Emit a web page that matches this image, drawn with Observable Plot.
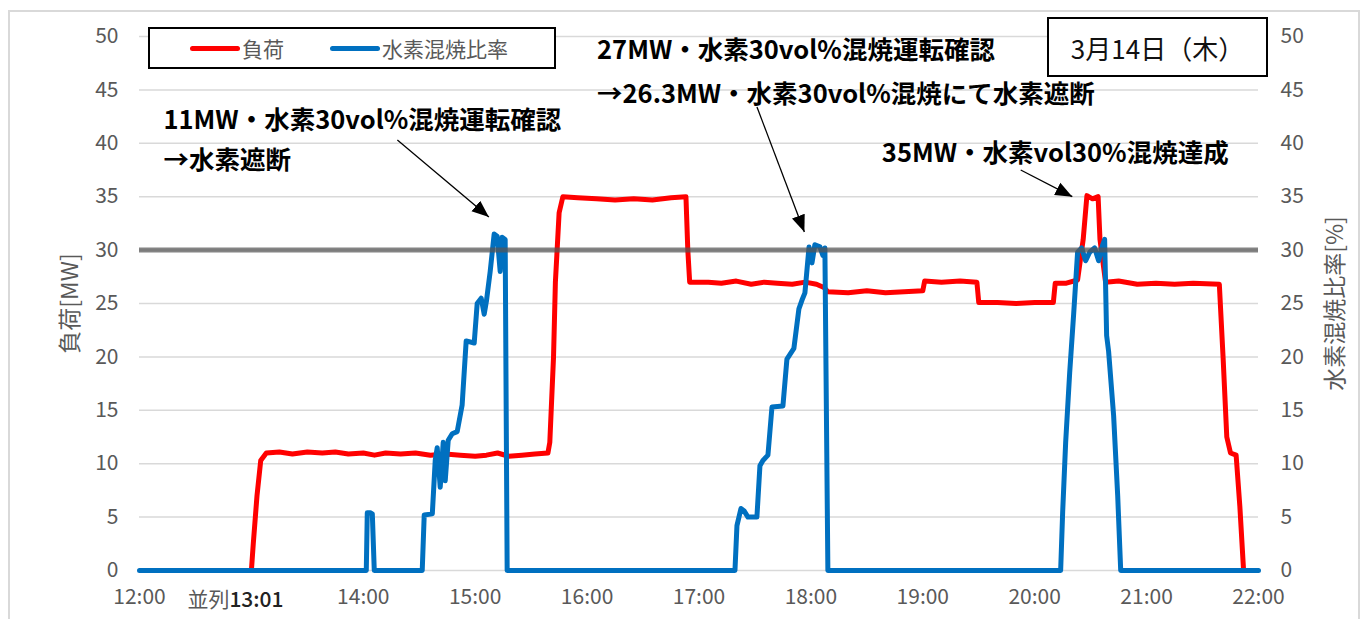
<!DOCTYPE html>
<html>
<head>
<meta charset="utf-8">
<script src="https://cdn.jsdelivr.net/npm/d3@7"></script>
<script src="https://cdn.jsdelivr.net/npm/@observablehq/plot@0.6"></script>
<style>
html, body { margin: 0; padding: 0; background: #fff; overflow: hidden; }
#wrap { position: relative; width: 1366px; height: 619px; font-family: "Noto Sans CJK JP", sans-serif; }
#frame { position: absolute; left: 8px; top: 10px; width: 1352px; height: 640px; border: 2px solid #d9d9d9; box-sizing: border-box; pointer-events: none; }
#legend { position: absolute; left: 148px; top: 27px; width: 408px; height: 42px; border: 2px solid #000; background: #fff; box-sizing: border-box; font-size: 21px; color: #595959; }
.item { display: flex; align-items: center; position: absolute; top: 50%; transform: translateY(-50%); }
.sw { display: inline-block; width: 50px; height: 5px; border-radius: 3px; margin-right: 2px; }
#datebox { position: absolute; left: 1047px; top: 17px; width: 221px; height: 60px; border: 2px solid #000; background: #fff; box-sizing: border-box; display: flex; align-items: center; justify-content: center; font-size: 26px; color: #111; }
#chart { position: absolute; left: 0; top: 0; }
</style>
</head>
<body>
<div id="wrap">
  <div id="chart"></div>
  <div id="frame"></div>
</div>
<script>
// ---- data ----
const loadTime = ["13:00","13:01","13:03","13:05","13:08","13:15","13:22","13:30","13:38","13:45","13:52","14:00","14:06","14:12","14:20","14:28","14:36","14:44","14:52","15:00","15:06","15:12","15:18","15:25","15:32","15:39","15:40","15:42","15:43","15:45","15:47","15:55","16:05","16:15","16:25","16:35","16:45","16:53","16:54","16:55","17:05","17:12","17:20","17:28","17:35","17:42","17:50","17:57","18:03","18:07","18:09","18:20","18:30","18:40","18:50","19:00","19:01","19:10","19:20","19:29","19:30","19:40","19:50","20:00","20:10","20:11","20:17","20:23","20:26","20:28","20:31","20:34","20:35","20:38","20:45","20:55","21:05","21:15","21:25","21:39","21:41","21:43","21:45","21:48","21:50","21:52"];
const loadMW   = [0,2.5,7,10.3,11.0,11.1,10.9,11.1,11.0,11.1,10.9,11.0,10.8,11.0,10.9,11.0,10.8,10.9,10.8,10.7,10.8,11.0,10.7,10.8,10.9,11.0,12,20,27,33.5,35.0,34.9,34.8,34.7,34.8,34.7,34.9,35.0,30,27.0,27.0,26.9,27.1,26.8,27.0,26.9,26.8,27.0,26.8,26.5,26.1,26.0,26.2,26.0,26.1,26.2,27.1,27.0,27.1,27.0,25.1,25.1,25.0,25.1,25.1,26.9,26.9,27.2,31,35.1,34.8,35.0,31,27.0,27.1,26.8,26.9,26.8,26.9,26.8,20,12.5,11,10.8,6,0];

const h2Time = ["12:00:00","14:01:36","14:02:08","14:03:45","14:04:50","14:05:53","14:31:36","14:32:40","14:37:00","14:38:34","14:39:38","14:41:15","14:42:51","14:43:55","14:45:32","14:47:40","14:50:21","14:53:00","14:55:10","14:59:28","15:01:04","15:03:13","15:04:50","15:06:00","15:08:02","15:10:10","15:11:47","15:13:24","15:14:27","15:16:04","15:17:08","17:19:17","17:20:21","17:22:30","17:24:06","17:26:15","17:31:03","17:32:40","17:34:17","17:36:58","17:39:07","17:45:00","17:47:09","17:50:53","17:53:34","17:55:11","17:56:48","17:59:00","18:00:35","18:02:08","18:04:50","18:06:25","18:07:30","18:09:06","20:13:55","20:15:00","20:16:36","20:18:45","20:20:53","20:23:00","20:25:11","20:27:19","20:29:28","20:32:08","20:34:17","20:36:26","20:37:30","20:38:34","20:39:38","20:42:19","20:44:30","20:46:07","22:00:00"];
const h2Pct  = [0,0,5.4,5.4,5.3,0,0,5.2,5.3,10.3,11.5,7.8,12.0,8.4,12.2,12.8,13.0,15.5,21.5,21.3,25.0,25.5,24.0,25.2,28.0,31.5,31.3,28.0,31.2,31.0,0,0,4.2,5.8,5.6,5.0,5.0,9.8,10.3,10.8,15.3,15.4,19.8,20.8,24.5,25.3,26.0,30.3,28.8,30.5,30.3,29.5,30.2,0,0,5.5,12,18.5,24,29.8,30.2,29.0,29.8,30.2,29.0,30.5,31.0,22.0,20.5,14.5,7,0,0];

const yTicks = [0,5,10,15,20,25,30,35,40,45,50];
const xTicks = ["12:00","13:00","14:00","15:00","16:00","17:00","18:00","19:00","20:00","21:00","22:00"];
const targetPct = [30];

const seriesNames = ["負荷", "水素混焼比率"];
const seriesColors = ["#ff0000", "#0070c0"];
const leftTitle = "負荷[MW]";
const rightTitle = "水素混焼比率[%]";
const dateLabel = "3月14日（木）";
const parallelLabel = ["並列", "13:01"];

const annTime = ["12:12:51","12:12:51","16:05:21","16:05:21","18:38:02"];
const annValue = [42.1, 38.4, 48.7, 44.5, 39.0];
const annText = ["11MW・水素30vol%混焼運転確認","→水素遮断","27MW・水素30vol%混焼運転確認","→26.3MW・水素30vol%混焼にて水素遮断","35MW・水素vol30%混焼達成"];

const arrFromTime = ["14:18:16","17:31:05","19:52:30"];
const arrFromVal  = [40.3, 43.4, 37.5];
const arrToTime   = ["15:07:20","17:56:30","20:20:10"];
const arrToVal    = [33.1, 31.7, 35.0];

// ---- build ----
const parse = d3.utcParse("%H:%M:%S");
const T = s => parse(s.length === 5 ? s + ":00" : s);

const load = loadTime.map((t, i) => ({t: T(t), v: loadMW[i]}));
const h2 = h2Time.map((t, i) => ({t: T(t), v: h2Pct[i]}));
const ann = annText.map((s, i) => ({t: T(annTime[i]), v: annValue[i], s}));
const arrows = arrFromTime.map((t, i) => ({t1: T(t), v1: arrFromVal[i], t2: T(arrToTime[i]), v2: arrToVal[i]}));
const xTickDates = xTicks.map(T);
const fmt = d3.utcFormat("%H:%M");

const font = "'Noto Sans CJK JP', sans-serif";
const grey = "#595959";
const tickFs = 21;

const chart = Plot.plot({
  width: 1366,
  height: 619,
  marginLeft: 139,
  marginRight: 108,
  marginTop: 36,
  marginBottom: 49,
  style: {fontFamily: font, fontSize: tickFs + "px", color: grey, background: "transparent"},
  x: {type: "utc", domain: [T("12:00"), T("22:00")]},
  y: {domain: [0, 50]},
  marks: [
    Plot.gridY(yTicks, {stroke: "#d9d9d9", strokeOpacity: 1, strokeWidth: 1.5}),
    Plot.axisY(yTicks, {anchor: "left", tickSize: 0, tickPadding: 21, label: null, fill: grey, fontSize: tickFs}),
    Plot.axisY(yTicks, {anchor: "right", tickSize: 0, tickPadding: 22, label: null, fill: grey, fontSize: tickFs}),
    Plot.axisX(xTickDates, {anchor: "bottom", tickSize: 0, tickPadding: 19, label: null, fill: grey, fontSize: tickFs,
      tickFormat: d => d.getUTCHours() === 13 ? "" : fmt(d)}),
    Plot.text([parallelLabel[0]], {x: () => T("13:00"), y: () => 0, text: d => d, textAnchor: "end", dx: -22, dy: 30, fill: grey, fontSize: tickFs}),
    Plot.text([parallelLabel[1]], {x: () => T("13:00"), y: () => 0, text: d => d, textAnchor: "start", dx: -22, dy: 30, fill: "#222", fontSize: tickFs, fontWeight: 500}),
    Plot.text([leftTitle], {frameAnchor: "left", dx: -69, rotate: -90, textAnchor: "middle", fill: grey, fontSize: 23}),
    Plot.text([rightTitle], {frameAnchor: "right", dx: 77, rotate: -90, textAnchor: "middle", fill: grey, fontSize: 23}),
    Plot.line(load, {x: "t", y: "v", stroke: seriesColors[0], strokeWidth: 5, strokeLinejoin: "round"}),
    Plot.line(h2, {x: "t", y: "v", stroke: seriesColors[1], strokeWidth: 5, strokeLinejoin: "round"}),
    Plot.ruleY(targetPct, {stroke: "#555", strokeOpacity: 0.72, strokeWidth: 5}),
    Plot.text(ann, {x: "t", y: "v", text: "s", textAnchor: "start", fill: "#000", fontWeight: "bold", fontSize: 25.5}),
    Plot.link(arrows, {x1: "t1", y1: "v1", x2: "t2", y2: "v2", stroke: "#000", strokeWidth: 1.3})
  ]
});

document.getElementById("chart").appendChild(chart);

// filled triangular arrowheads for the annotation arrows
const svg = d3.select(chart);
svg.insert("defs", ":first-child").append("marker")
  .attr("id", "tri").attr("viewBox", "0 0 10 10").attr("refX", 10).attr("refY", 5)
  .attr("markerUnits", "userSpaceOnUse").attr("markerWidth", 17).attr("markerHeight", 17)
  .attr("orient", "auto")
  .append("path").attr("d", "M0,1L10,5L0,9Z").attr("fill", "#000");
svg.selectAll("g[aria-label=link] path").attr("marker-end", "url(#tri)");

// legend box and date box overlays
const wrap = document.getElementById("wrap");
const legend = document.createElement("div");
legend.id = "legend";
const lefts = [40, 180];
seriesNames.forEach((n, i) => {
  const it = document.createElement("div");
  it.className = "item";
  it.style.left = lefts[i] + "px";
  const sw = document.createElement("span");
  sw.className = "sw";
  sw.style.background = seriesColors[i];
  it.appendChild(sw);
  it.appendChild(document.createTextNode(n));
  legend.appendChild(it);
});
wrap.appendChild(legend);
const db = document.createElement("div");
db.id = "datebox";
db.textContent = dateLabel;
wrap.appendChild(db);
</script>
</body>
</html>
